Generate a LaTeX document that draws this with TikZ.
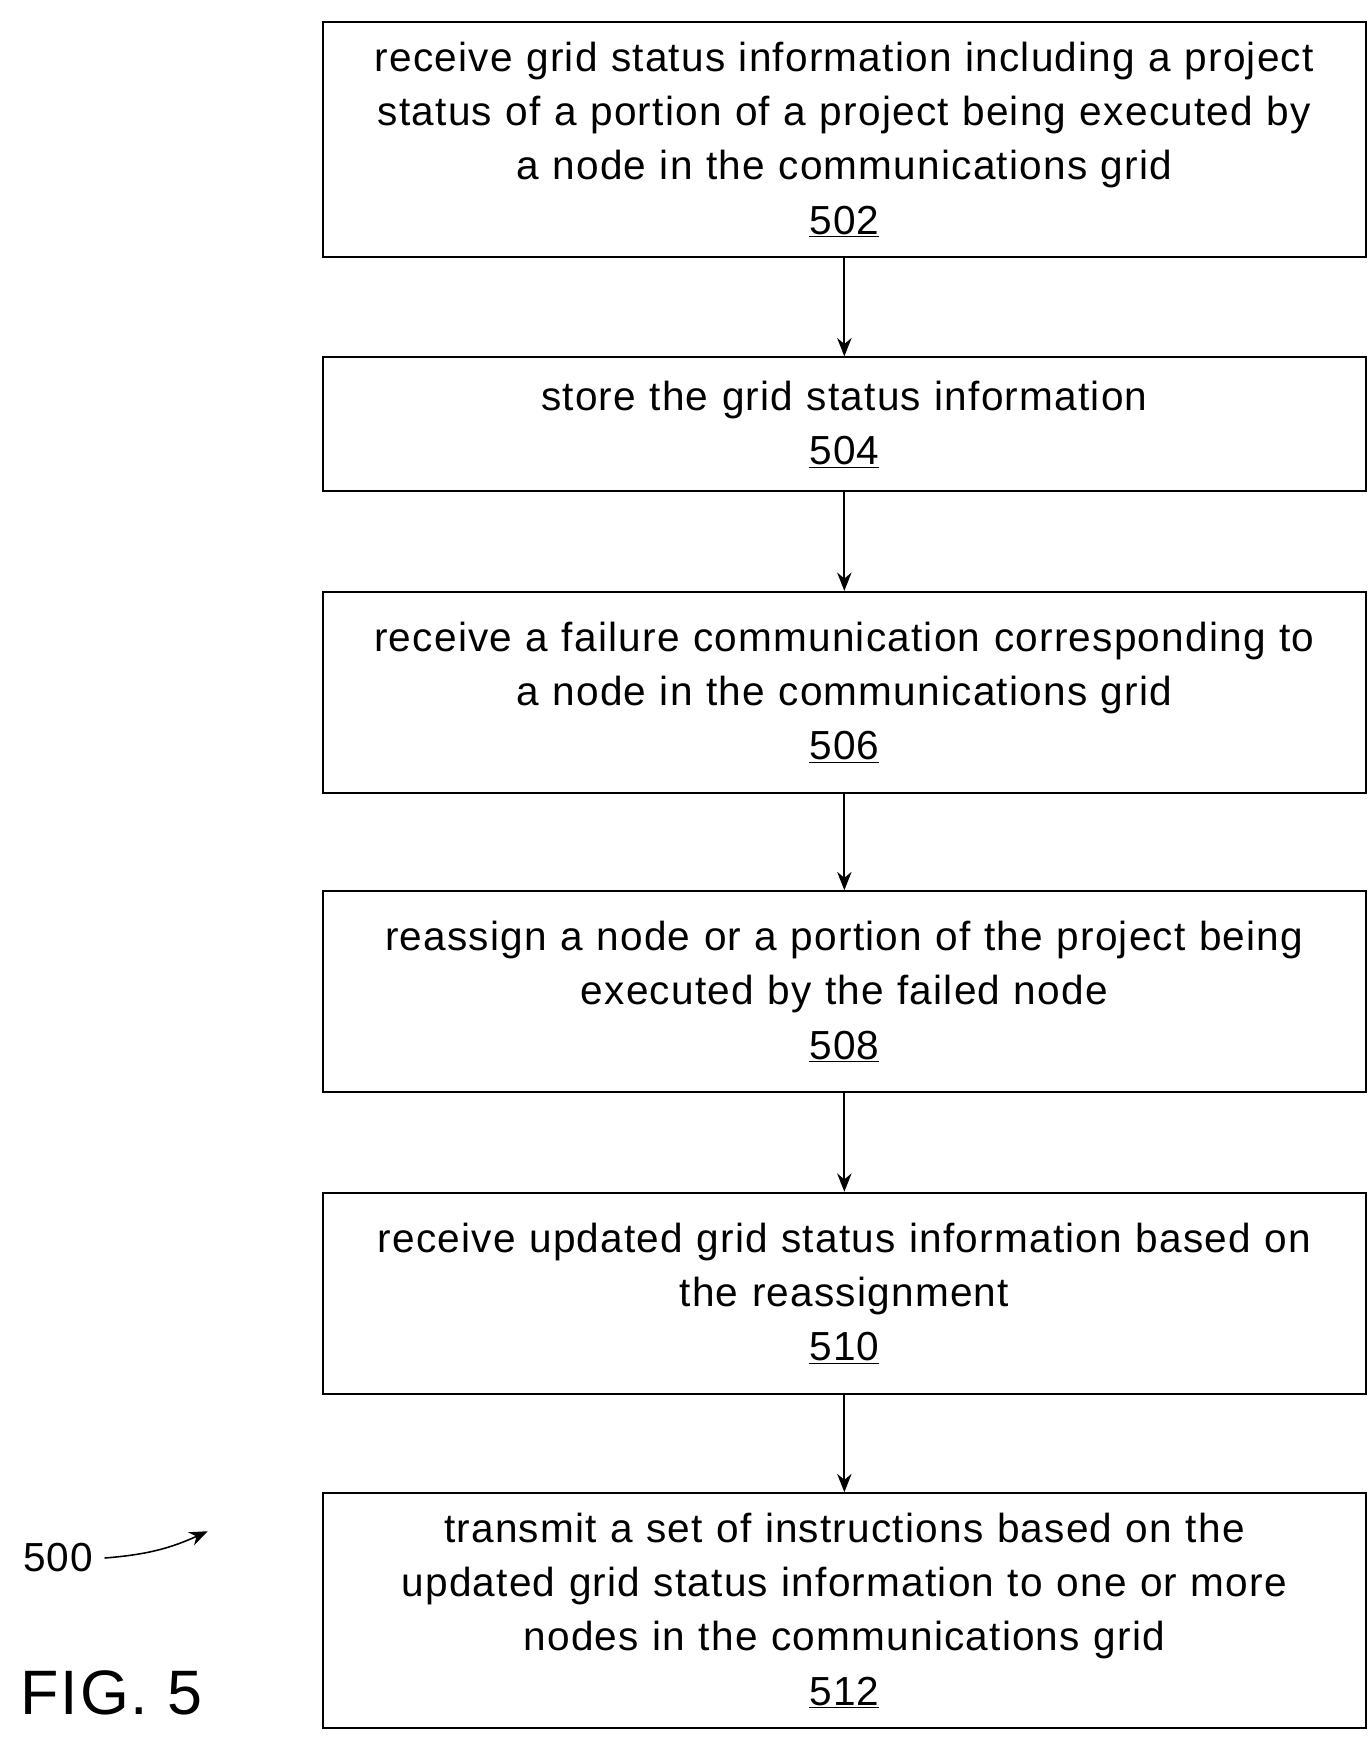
\documentclass[tikz,border=0pt]{standalone}
\usepackage{fontspec}
\setmainfont{Liberation Sans}[LetterSpace=3]
\usetikzlibrary{arrows,arrows.meta,positioning}
\begin{document}
\begin{tikzpicture}[x=0.03cm, y=-0.03cm, semithick,
    procbox/.style={draw, line width=1.6pt, minimum width=26.94cm, text width=28cm,
      align=center, inner sep=0pt, font=\fontsize{31}{41.5}\selectfont},
    flow/.style={-{Stealth[length=14pt,width=11pt]}, line width=1.4pt}
    ]
\useasboundingbox (0,0) rectangle (1225,1566);
% steps
\node[procbox, minimum height=6.3cm]  (s502) at (756,125)  {receive grid status information including a project\\status of a portion of a project being executed by\\a node in the communications grid\\\underline{502}};
\node[procbox, minimum height=3.6cm]  (s504) at (756,380)  {store the grid status information\\\underline{504}};
\node[procbox, minimum height=5.4cm]  (s506) at (756,620)  {receive a failure communication corresponding to\\a node in the communications grid\\\underline{506}};
\node[procbox, minimum height=5.4cm]  (s508) at (756,888)  {reassign a node or a portion of the project being\\executed by the failed node\\\underline{508}};
\node[procbox, minimum height=5.4cm]  (s510) at (756,1158) {receive updated grid status information based on\\the reassignment\\\underline{510}};
\node[procbox, minimum height=6.3cm]  (s512) at (756,1442) {transmit a set of instructions based on the\\updated grid status information to one or more\\nodes in the communications grid\\\underline{512}};
\path
(s502) edge [flow] (s504)
(s504) edge [flow] (s506)
(s506) edge [flow] (s508)
(s508) edge [flow] (s510)
(s510) edge [flow] (s512)
;
% figure label
\node[font=\fontsize{31}{34}\selectfont] (ref) at (52,1395) {500};
\coordinate (refend) at (186,1371);
\draw[-{Stealth[length=14pt,width=11pt]}, line width=1.2pt] (ref.east) ++(6,0) coordinate (refstart) to[bend right=10] (refend);
\node[font=\fontsize{48}{50}\selectfont] (fig) at (100,1516) {FIG. 5};
\end{tikzpicture}
\end{document}
